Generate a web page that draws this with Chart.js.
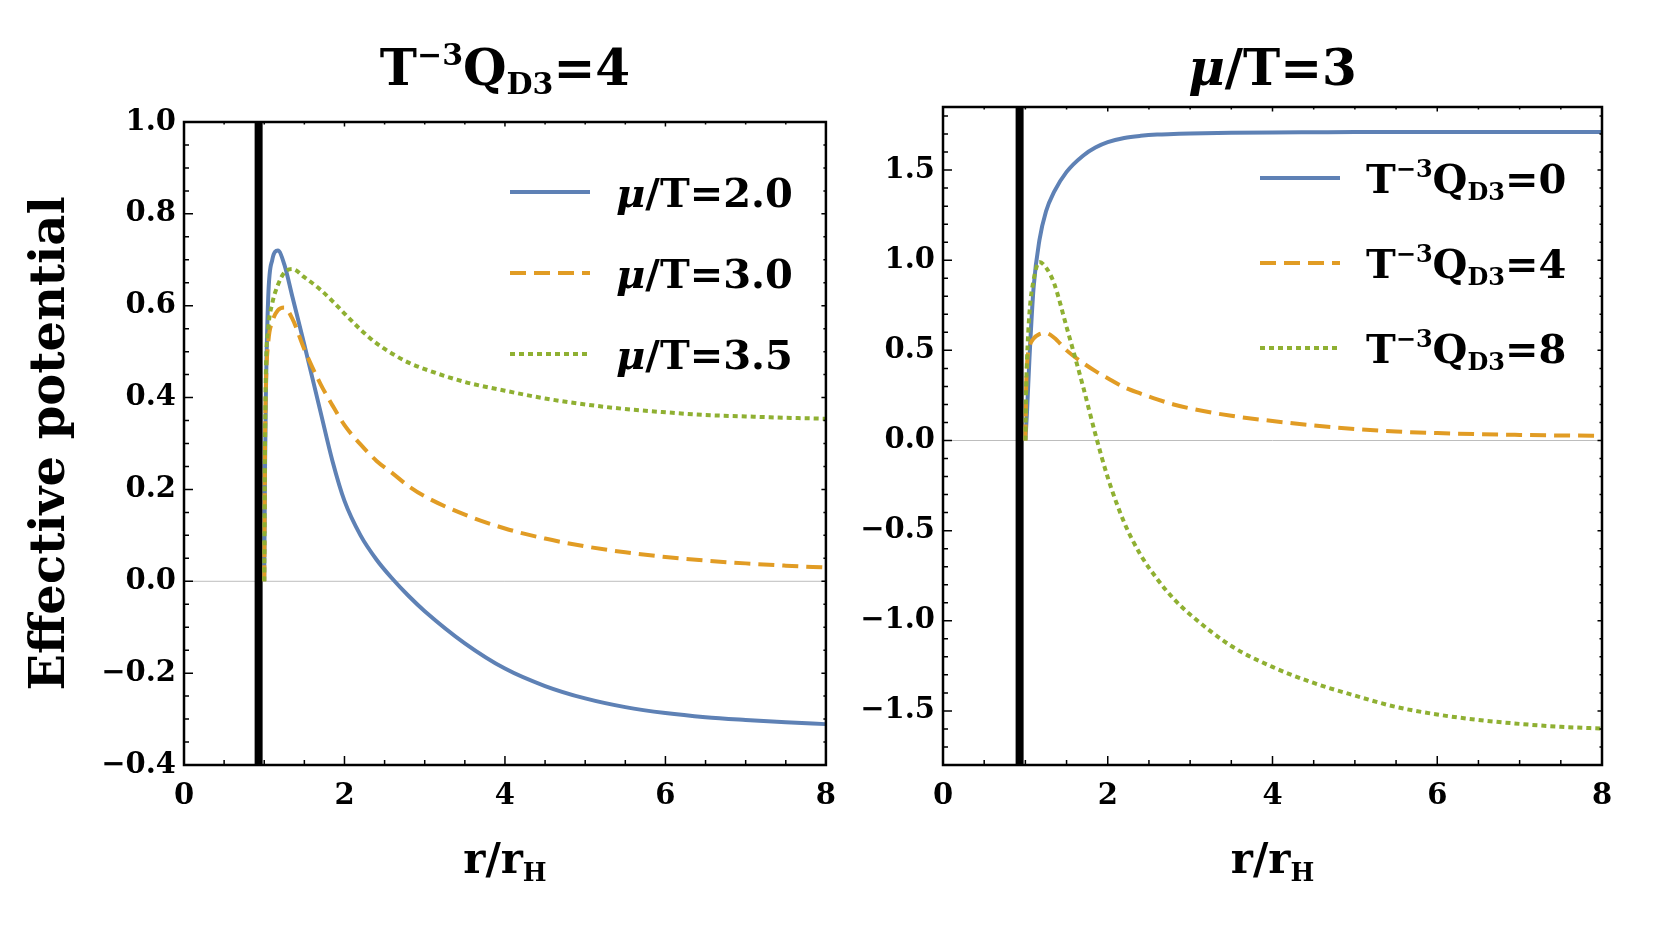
<!DOCTYPE html>
<html>
<head>
<meta charset="utf-8">
<script src="https://cdn.jsdelivr.net/npm/chart.js@4.4.1/dist/chart.umd.min.js"></script>
<style>
  body { margin: 0; background: #fff; }
  #wrap { position: relative; width: 1667px; height: 925px; }
  .box { position: absolute; top: 0; height: 925px; }
</style>
</head>
<body>
<div id="wrap">
  <div class="box" style="left:0;width:850px"><canvas id="left-chart"></canvas></div>
  <div class="box" style="left:850px;width:817px"><canvas id="right-chart"></canvas></div>
</div>
<script>
// r/r_H sample points
const rGrid = [1.0, 1.01, 1.02, 1.05, 1.1, 1.17, 1.25, 1.35, 1.5, 1.7, 1.85, 2.0, 2.2, 2.4, 2.6, 2.8, 3.0, 3.5, 4.0, 4.5, 5.0, 5.5, 6.0, 6.5, 7.0, 7.5, 8.0];

// left panel, T^-3 Q_D3 = 4
const leftMu20 = [0, 0.25, 0.40, 0.62, 0.70, 0.72, 0.69, 0.62, 0.515, 0.37, 0.262, 0.175, 0.10, 0.047, 0.005, -0.032, -0.065, -0.135, -0.19, -0.228, -0.255, -0.274, -0.287, -0.296, -0.302, -0.307, -0.311];
const leftMu30 = [0, 0.30, 0.42, 0.52, 0.565, 0.59, 0.596, 0.572, 0.505, 0.43, 0.383, 0.34, 0.298, 0.262, 0.235, 0.207, 0.185, 0.145, 0.115, 0.093, 0.076, 0.063, 0.053, 0.045, 0.039, 0.034, 0.030];
const leftMu35 = [0, 0.30, 0.45, 0.55, 0.605, 0.645, 0.672, 0.68, 0.662, 0.635, 0.61, 0.583, 0.548, 0.518, 0.495, 0.476, 0.462, 0.434, 0.415, 0.398, 0.385, 0.375, 0.368, 0.362, 0.359, 0.356, 0.354];

// right panel, mu/T = 3
const rightQ0 = [0, 0.08, 0.16, 0.46, 0.85, 1.11, 1.27, 1.38, 1.49, 1.58, 1.625, 1.655, 1.678, 1.69, 1.697, 1.700, 1.703, 1.707, 1.709, 1.710, 1.711, 1.711, 1.712, 1.712, 1.712, 1.712, 1.712];
const rightQ4 = [0, 0.30, 0.42, 0.52, 0.565, 0.59, 0.596, 0.57, 0.50, 0.43, 0.385, 0.345, 0.295, 0.26, 0.228, 0.20, 0.178, 0.137, 0.108, 0.083, 0.064, 0.050, 0.041, 0.035, 0.031, 0.028, 0.026];
const rightQ8 = [0, 0.30, 0.45, 0.71, 0.89, 0.99, 0.96, 0.87, 0.63, 0.30, 0.035, -0.205, -0.455, -0.635, -0.768, -0.878, -0.965, -1.14, -1.256, -1.345, -1.415, -1.478, -1.52, -1.55, -1.572, -1.588, -1.598];

// horizon marker (thick black line)
const horizonR = 0.93;

// ticks
const xTicks = [0, 2, 4, 6, 8];
const leftYTicks = [-0.4, -0.2, 0, 0.2, 0.4, 0.6, 0.8, 1.0];
const rightYTicks = [-1.5, -1.0, -0.5, 0, 0.5, 1.0, 1.5];

const BLUE = "#5E81B5";
const ORANGE = "#E19C24";
const GREEN = "#8FB032";
const FONT = '"DejaVu Serif", serif';
const DASHED = [16, 8];
const DOTTED = [5, 4];

const qLabel = (n) => [{ t: "T" }, { t: "\u22123", sup: true }, { t: "Q" }, { t: "D3", sub: true }, { t: "=" + n }];
const muLabel = (n) => [{ t: "\u03bc", it: true }, { t: "/T=" + n }];

const partFont = (p, size) => {
  const s = p.sup || p.sub ? size * 0.6 : size;
  return (p.it ? "italic " : "") + "bold " + s + "px " + FONT;
};

const richWidth = (ctx, parts, size) => {
  let w = 0;
  parts.forEach((p) => {
    ctx.font = partFont(p, size);
    w += ctx.measureText(p.t).width;
  });
  return w;
};

const drawRich = (ctx, parts, x, y, size, align) => {
  let cx = align === "center" ? x - richWidth(ctx, parts, size) / 2 : x;
  ctx.textAlign = "left";
  ctx.textBaseline = "alphabetic";
  ctx.fillStyle = "#000";
  parts.forEach((p) => {
    ctx.font = partFont(p, size);
    let dy = 0;
    if (p.sup) dy = -size * 0.4;
    if (p.sub) dy = size * 0.18;
    ctx.fillText(p.t, cx, y + dy);
    cx += ctx.measureText(p.t).width;
  });
};

const fmtY = (v) => (v < 0 ? "\u2212" + Math.abs(v).toFixed(1) : v.toFixed(1));

// frame with inward ticks, zero line, titles and legend
const makeDecor = (cfg) => ({
  id: "decor",
  beforeDatasetsDraw(chart) {
    const { ctx, chartArea: a, scales } = chart;
    const y0 = scales.y.getPixelForValue(0);
    ctx.save();
    ctx.strokeStyle = "#bdbdbd";
    ctx.lineWidth = 1;
    ctx.beginPath();
    ctx.moveTo(a.left, y0);
    ctx.lineTo(a.right, y0);
    ctx.stroke();
    ctx.restore();
  },
  afterDraw(chart) {
    const { ctx, chartArea: a, scales } = chart;
    const { x, y } = scales;
    ctx.save();
    ctx.strokeStyle = "#000";
    ctx.lineWidth = 1.5;
    // x ticks (bottom + top)
    for (let v = x.min; v <= x.max + 1e-9; v += cfg.xMinor) {
      const px = x.getPixelForValue(v);
      const major = xTicks.some((t) => Math.abs(t - v) < 1e-6);
      const len = major ? 9 : 5;
      ctx.beginPath();
      ctx.moveTo(px, a.bottom);
      ctx.lineTo(px, a.bottom - len);
      ctx.moveTo(px, a.top);
      ctx.lineTo(px, a.top + len * 0.5);
      ctx.stroke();
    }
    // y ticks (left + right)
    const start = Math.ceil(y.min / cfg.yMinor - 1e-6) * cfg.yMinor;
    for (let v = start; v <= y.max + 1e-9; v += cfg.yMinor) {
      const py = y.getPixelForValue(v);
      const major = cfg.yTicks.some((t) => Math.abs(t - v) < 1e-6);
      const len = major ? 9 : 5;
      ctx.beginPath();
      ctx.moveTo(a.left, py);
      ctx.lineTo(a.left + len, py);
      ctx.moveTo(a.right, py);
      ctx.lineTo(a.right - len * 0.5, py);
      ctx.stroke();
    }
    ctx.lineWidth = 2.5;
    ctx.strokeRect(a.left, a.top, a.right - a.left, a.bottom - a.top);

    const cxm = (a.left + a.right) / 2;
    drawRich(ctx, cfg.title, cxm, 85, 50, "center");
    drawRich(ctx, [{ t: "r/r" }, { t: "H", sub: true }], cxm, 873, 42, "center");

    if (cfg.yTitle) {
      ctx.save();
      ctx.translate(52, (a.top + a.bottom) / 2);
      ctx.rotate(-Math.PI / 2);
      ctx.font = "bold 48px " + FONT;
      ctx.textAlign = "center";
      ctx.textBaseline = "middle";
      ctx.fillStyle = "#000";
      ctx.fillText(cfg.yTitle, 0, 0);
      ctx.restore();
    }

    // legend
    cfg.legend.forEach((item, i) => {
      const ry = a.top + cfg.legendTop + i * cfg.legendGap;
      ctx.save();
      ctx.strokeStyle = item.color;
      ctx.lineWidth = 4;
      ctx.setLineDash(item.dash);
      ctx.beginPath();
      ctx.moveTo(a.left + cfg.legendX, ry);
      ctx.lineTo(a.left + cfg.legendX + 80, ry);
      ctx.stroke();
      ctx.restore();
      drawRich(ctx, item.label, a.left + cfg.legendX + 106, ry + 15, 40, "left");
    });
    ctx.restore();
  },
});

const curve = (ys, color, dash) => ({
  data: rGrid.map((r, i) => ({ x: r, y: ys[i] })),
  borderColor: color,
  borderWidth: 4,
  borderDash: dash,
  pointRadius: 0,
  cubicInterpolationMode: "monotone",
  fill: false,
});

const horizon = (yMin, yMax) => ({
  data: [{ x: horizonR, y: yMin }, { x: horizonR, y: yMax }],
  borderColor: "#000",
  borderWidth: 8,
  pointRadius: 0,
  order: 10,
});

const makeScales = (yMin, yMax, yTicks, yWidth) => ({
  x: {
    type: "linear",
    min: 0,
    max: 8,
    afterBuildTicks: (s) => { s.ticks = xTicks.map((v) => ({ value: v })); },
    afterFit: (s) => { s.height = 60; },
    grid: { display: false, drawTicks: false, tickLength: 0 },
    border: { display: false },
    ticks: { autoSkip: false, maxRotation: 0, color: "#000", padding: 14, font: { family: FONT, weight: "bold", size: 29 }, callback: (v) => String(v) },
  },
  y: {
    type: "linear",
    min: yMin,
    max: yMax,
    afterBuildTicks: (s) => { s.ticks = yTicks.map((v) => ({ value: v })); },
    afterFit: (s) => { s.width = yWidth; },
    grid: { display: false, drawTicks: false, tickLength: 0 },
    border: { display: false },
    ticks: { autoSkip: false, color: "#000", padding: 8, font: { family: FONT, weight: "bold", size: 29 }, callback: (v) => fmtY(v) },
  },
});

const baseOptions = (scales, padding) => ({
  responsive: true,
  maintainAspectRatio: false,
  animation: false,
  layout: { padding },
  plugins: { legend: { display: false }, tooltip: { enabled: false }, title: { display: false } },
  scales,
});

new Chart(document.getElementById("left-chart"), {
  type: "line",
  data: {
    datasets: [
      curve(leftMu35, GREEN, DOTTED),
      curve(leftMu30, ORANGE, DASHED),
      curve(leftMu20, BLUE, []),
      horizon(-0.4, 1.0),
    ],
  },
  options: baseOptions(makeScales(-0.4, 1.0, leftYTicks, 150), { left: 34, right: 23, top: 122, bottom: 100 }),
  plugins: [
    makeDecor({
      title: qLabel(4),
      yTitle: "Effective potential",
      xMinor: 0.5,
      yMinor: 0.05,
      yTicks: leftYTicks,
      legendX: 326,
      legendTop: 70,
      legendGap: 81,
      legend: [
        { label: muLabel("2.0"), color: BLUE, dash: [] },
        { label: muLabel("3.0"), color: ORANGE, dash: DASHED },
        { label: muLabel("3.5"), color: GREEN, dash: DOTTED },
      ],
    }),
  ],
});

new Chart(document.getElementById("right-chart"), {
  type: "line",
  data: {
    datasets: [
      curve(rightQ8, GREEN, DOTTED),
      curve(rightQ4, ORANGE, DASHED),
      curve(rightQ0, BLUE, []),
      horizon(-1.8, 1.85),
    ],
  },
  options: baseOptions(makeScales(-1.8, 1.85, rightYTicks, 80), { left: 13, right: 65, top: 107, bottom: 100 }),
  plugins: [
    makeDecor({
      title: muLabel("3"),
      xMinor: 0.5,
      yMinor: 0.1,
      yTicks: rightYTicks,
      legendX: 317,
      legendTop: 71,
      legendGap: 85,
      legend: [
        { label: qLabel(0), color: BLUE, dash: [] },
        { label: qLabel(4), color: ORANGE, dash: DASHED },
        { label: qLabel(8), color: GREEN, dash: DOTTED },
      ],
    }),
  ],
});
</script>
</body>
</html>
